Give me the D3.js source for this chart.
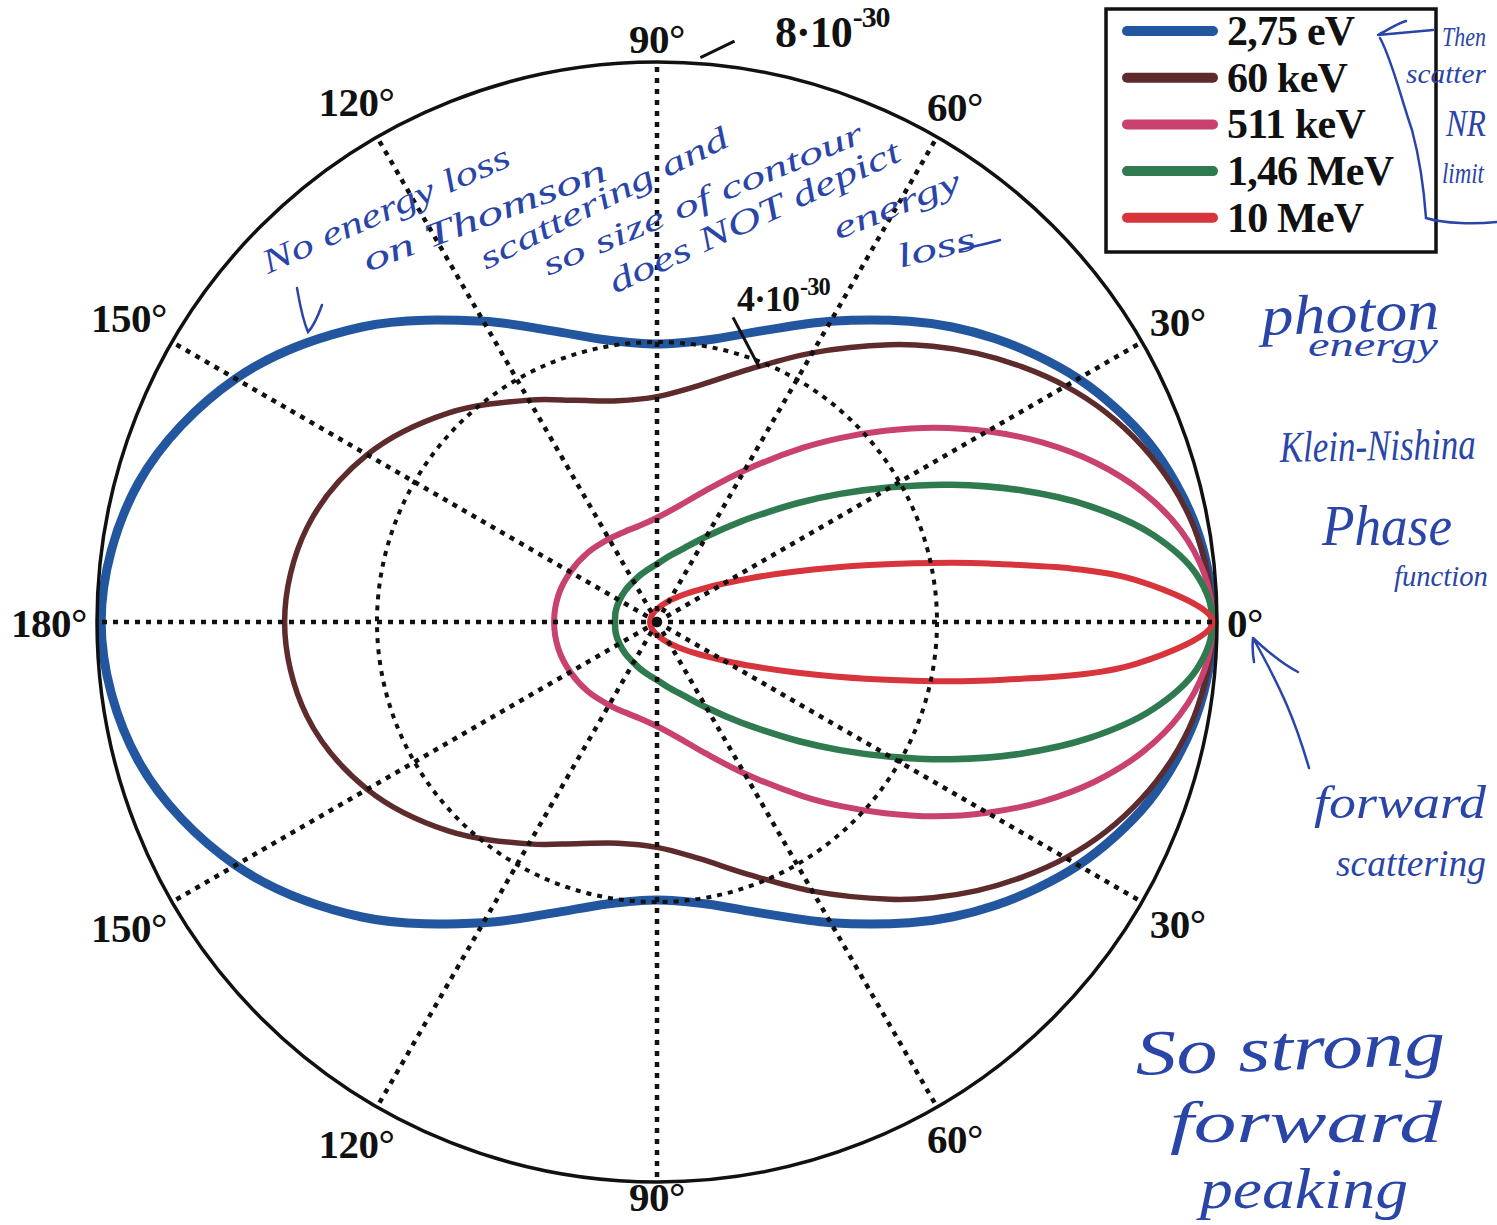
<!DOCTYPE html>
<html>
<head>
<meta charset="utf-8">
<script src="https://cdn.jsdelivr.net/npm/d3@7"></script>
<style>
  html, body { margin: 0; padding: 0; background: #fff; }
  svg { display: block; }
</style>
</head>
<body>
<svg id="chart" width="1497" height="1225"></svg>
<script>
// ---- data (differential cross-section, units of 1e-30 m^2 / sr) ----
const angles = [0,5,10,15,20,25,30,35,40,45,50,60,70,80,90,100,110,120,135,150,165,180];
const seriesNames = ["2,75 eV", "60 keV", "511 keV", "1,46 MeV", "10 MeV"];
const ev275  = [7.94,7.91,7.82,7.67,7.48,7.23,6.95,6.63,6.30,5.96,5.61,4.96,4.43,4.09,3.97,4.09,4.43,4.96,5.96,6.95,7.67,7.94];
const kev60  = [7.94,7.90,7.79,7.61,7.37,7.08,6.74,6.36,5.97,5.57,5.17,4.44,3.84,3.43,3.22,3.21,3.37,3.66,4.22,4.78,5.18,5.32];
const kev511 = [7.94,7.85,7.59,7.18,6.66,6.07,5.45,4.84,4.25,3.72,3.25,2.50,1.99,1.67,1.49,1.40,1.37,1.37,1.40,1.43,1.46,1.47];
const mev146 = [7.94,7.74,7.19,6.40,5.51,4.64,3.85,3.19,2.65,2.21,1.88,1.41,1.12,0.95,0.83,0.76,0.71,0.67,0.64,0.62,0.61,0.60];
const mev10  = [7.94,6.87,4.81,3.14,2.11,1.49,1.10,0.85,0.68,0.56,0.47,0.35,0.27,0.22,0.18,0.16,0.14,0.13,0.11,0.105,0.10,0.10];
const seriesValues = [ev275, kev60, kev511, mev146, mev10];
const gridAngles = [0,30,60,90,120,150,180,210,240,270,300,330];
const gridLabels = ["0°","30°","60°","90°","120°","150°","180°","150°","120°","90°","60°","30°"];
const rMax = 8;
const rRing = 4;

// ---- styles ----
const colors = ["#22569e", "#5e2b2d", "#c8416f", "#2f7a4f", "#d7343c"];
const widths = [9, 5.5, 6, 6.5, 6];
const inkBlue = "#2a45a8";

const svg = d3.select("#chart");
const cx = 657, cy = 622, R = 560;
const r = d3.scaleLinear().domain([0, rMax]).range([0, R]);
const toRad = d => d * Math.PI / 180;
const g = svg.append("g").attr("transform", `translate(${cx},${cy})`);

// curves
const line = d3.lineRadial()
  .angle(d => Math.PI / 2 - toRad(d[0]))
  .radius(d => r(d[1]))
  .curve(d3.curveCatmullRomClosed.alpha(0.5));

seriesValues.forEach((vals, si) => {
  const upper = angles.map((a, i) => [a, vals[i]]);
  const lower = [];
  for (let i = angles.length - 2; i >= 1; i--) lower.push([360 - angles[i], vals[i]]);
  g.append("path")
    .attr("d", line(upper.concat(lower)))
    .attr("fill", "none")
    .attr("stroke", colors[si])
    .attr("stroke-width", widths[si])
    .attr("stroke-linejoin", "round");
});

// grid (drawn over curves)
g.append("circle").attr("r", r(rMax)).attr("fill", "none").attr("stroke", "#111").attr("stroke-width", 3.5);
g.append("circle").attr("r", r(rRing)).attr("fill", "none").attr("stroke", "#111")
  .attr("stroke-width", 4).attr("stroke-dasharray", "5,6");
gridAngles.forEach(a => {
  g.append("line")
    .attr("x1", 0).attr("y1", 0)
    .attr("x2", r(rMax) * Math.cos(toRad(a)))
    .attr("y2", -r(rMax) * Math.sin(toRad(a)))
    .attr("stroke", "#111").attr("stroke-width", 4.5).attr("stroke-dasharray", "5,6");
});

// angle labels
gridAngles.forEach((a, i) => {
  const t = g.append("text")
    .attr("font-family", "'Liberation Serif', serif")
    .attr("font-weight", "bold")
    .attr("font-size", 41)
    .attr("letter-spacing", -0.5)
    .attr("fill", "#111")
    .attr("text-anchor", "middle")
    .attr("dominant-baseline", "central")
    .text(gridLabels[i]);
  const hw = t.node().getComputedTextLength() / 2;
  const hh = 14;
  const th = toRad(a);
  const rr = R + 10 + hw * Math.abs(Math.cos(th)) + hh * Math.abs(Math.sin(th));
  let yy = -rr * Math.sin(th) + 1;
  if (a === 270) yy = Math.min(yy, 1225 - cy - 28);
  t.attr("x", rr * Math.cos(th)).attr("y", yy);
});

// radial value ticks
function polar(rad, deg) { return [rad * Math.cos(toRad(deg)), -rad * Math.sin(toRad(deg))]; }
const t8a = polar(r(rMax) + 6, 85.6), t8b = polar(r(rMax) + 26, 82.4);
g.append("line").attr("x1", t8a[0]).attr("y1", t8a[1]).attr("x2", t8b[0]).attr("y2", t8b[1])
  .attr("stroke", "#111").attr("stroke-width", 3);
const t4a = polar(r(rRing) + 34, 76), t4b = polar(r(rRing) - 6, 68);
g.append("line").attr("x1", t4a[0]).attr("y1", t4a[1]).attr("x2", t4b[0]).attr("y2", t4b[1])
  .attr("stroke", "#111").attr("stroke-width", 3);

function sciLabel(x, y, mant, size) {
  const t = svg.append("text").attr("x", x).attr("y", y)
    .attr("font-family", "'Liberation Serif', serif").attr("font-weight", "bold")
    .attr("font-size", size).attr("letter-spacing", -1).attr("fill", "#111");
  t.append("tspan").text(mant + "·10");
  t.append("tspan").attr("font-size", size * 0.68).attr("dy", -size * 0.45).attr("dx", 1).text("-30");
}
sciLabel(775, 47, "8", 44);
sciLabel(737, 311, "4", 36);

// legend
svg.append("rect").attr("x", 1106).attr("y", 9).attr("width", 330).attr("height", 243)
  .attr("fill", "#fff").attr("stroke", "#111").attr("stroke-width", 3.5);
seriesNames.forEach((name, i) => {
  const y = 31 + i * 46.7;
  svg.append("line").attr("x1", 1127).attr("x2", 1213).attr("y1", y).attr("y2", y)
    .attr("stroke", colors[i]).attr("stroke-width", 10).attr("stroke-linecap", "round");
  svg.append("text").attr("x", 1227).attr("y", y + 14)
    .attr("font-family", "'Liberation Serif', serif").attr("font-weight", "bold")
    .attr("font-size", 42).attr("letter-spacing", -0.8).attr("fill", "#111").text(name);
});

// handwritten annotations
const notes = [
  {t: "No energy loss",      x: 268,  y: 274, rot: -24, size: 34, len: 268},
  {t: "on Thomson",          x: 368,  y: 272, rot: -21, size: 34, len: 258},
  {t: "scattering and",      x: 486,  y: 270, rot: -27, size: 32, len: 275},
  {t: "so size of contour",  x: 548,  y: 276, rot: -23, size: 32, len: 345},
  {t: "does NOT depict",     x: 615,  y: 294, rot: -25, size: 34, len: 318},
  {t: "energy",              x: 838,  y: 240, rot: -22, size: 32, len: 135},
  {t: "loss",                x: 900,  y: 268, rot: -14, size: 34, len: 80},
  {t: "photon",              x: 1262, y: 335, rot: -2,  size: 56, len: 178},
  {t: "energy",              x: 1308, y: 356, rot: 0,   size: 34, len: 130},
  {t: "Klein-Nishina",       x: 1280, y: 462, rot: -1,  size: 44, len: 196},
  {t: "Phase",               x: 1322, y: 545, rot: 0,   size: 56, len: 130},
  {t: "function",            x: 1394, y: 586, rot: 0,   size: 30, len: 94},
  {t: "forward",             x: 1314, y: 818, rot: 0,   size: 46, len: 172},
  {t: "scattering",          x: 1336, y: 876, rot: 0,   size: 38, len: 150},
  {t: "So   strong",         x: 1136, y: 1075, rot: -2, size: 64, len: 310},
  {t: "forward",             x: 1170, y: 1142, rot: 0,  size: 60, len: 272},
  {t: "peaking",             x: 1200, y: 1208, rot: 0,  size: 58, len: 208},
  {t: "Then",                x: 1442, y: 46,  rot: 0,   size: 28, len: 44},
  {t: "scatter",             x: 1406, y: 83,  rot: 0,   size: 28, len: 80},
  {t: "NR",                  x: 1446, y: 136, rot: 0,   size: 38, len: 40},
  {t: "limit",               x: 1442, y: 183, rot: 0,   size: 30, len: 42}
];
notes.forEach(n => {
  const t = svg.append("text")
    .attr("font-family", "'Liberation Serif', serif")
    .attr("font-style", "italic")
    .attr("font-size", n.size)
    .attr("fill", inkBlue)
    .text(n.t);
  const natural = t.node().getComputedTextLength();
  const sx = n.len / natural;
  t.attr("transform", `translate(${n.x},${n.y}) rotate(${n.rot}) scale(${sx},1)`);
});

// hand-drawn strokes
const strokes = [
  "M297,288 C300,305 302,318 308,332 C314,326 318,316 322,305",
  "M1309,768 C1295,720 1282,690 1253,638 M1253,638 C1252,648 1253,656 1254,662 M1253,638 C1268,652 1282,664 1298,672",
  "M1378,35 L1433,30 M1378,35 C1388,30 1396,24 1406,21 M1380,38 C1392,60 1400,95 1412,130 C1420,160 1424,190 1426,218 C1445,224 1475,224 1497,222",
  "M960,250 C975,246 990,243 1000,240"
];
strokes.forEach(d => {
  svg.append("path").attr("d", d).attr("fill", "none").attr("stroke", inkBlue)
    .attr("stroke-width", 2.5).attr("stroke-linecap", "round");
});
</script>
</body>
</html>
